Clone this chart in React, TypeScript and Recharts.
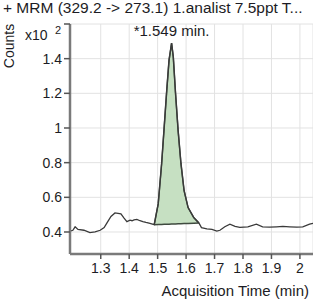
import React from 'react';
import { ComposedChart, Line, Area, XAxis, YAxis, CartesianGrid, ReferenceDot } from 'recharts';

// Acquisition time (min)
const times = [
  1.192, 1.202, 1.21, 1.22, 1.241, 1.262, 1.28, 1.298, 1.312, 1.322, 1.336, 1.35, 1.361, 1.371,
  1.382, 1.392, 1.403, 1.41, 1.417, 1.427, 1.438, 1.448, 1.459, 1.473, 1.488, 1.502, 1.514,
  1.523, 1.532, 1.54, 1.549, 1.555, 1.563, 1.572, 1.582, 1.593, 1.607, 1.627, 1.645, 1.654,
  1.673, 1.691, 1.708, 1.719, 1.736, 1.754, 1.772, 1.789, 1.817, 1.847, 1.869, 1.894, 1.918,
  1.94, 1.964, 1.989, 2.01, 2.034, 2.046,
];
// Counts (x10^2)
const counts = [
  0.405, 0.41, 0.43, 0.415, 0.41, 0.396, 0.4, 0.41, 0.425, 0.453, 0.49, 0.51, 0.508, 0.505,
  0.48, 0.46, 0.468, 0.465, 0.47, 0.473, 0.465, 0.46, 0.455, 0.45, 0.442, 0.562, 0.794,
  1.005, 1.217, 1.39, 1.49, 1.41, 1.198, 0.985, 0.794, 0.638, 0.541, 0.483, 0.452, 0.425,
  0.418, 0.415, 0.405, 0.41, 0.43, 0.445, 0.432, 0.427, 0.43, 0.445, 0.43, 0.428, 0.43,
  0.432, 0.43, 0.428, 0.43, 0.445, 0.45,
];
// Integrated peak: start/end time and baseline values at those ends
const peakStart = 1.488;
const peakEnd = 1.645;
const baseStart = 0.442;
const baseEnd = 0.452;
const peakTime = 1.549;
const peakCount = 1.49;
const peakLabel = '*1.549 min.';

const xTicks = [1.3, 1.4, 1.5, 1.6, 1.7, 1.8, 1.9, 2.0];
const yTicks = [0.4, 0.6, 0.8, 1, 1.2, 1.4, 1.6];

const title = '+ MRM (329.2 -> 273.1) 1.analist 7.5ppt T...';
const yTitle = 'Counts';
const xTitle = 'Acquisition Time (min)';

const data = times.map((t, i) => {
  const inPeak = t >= peakStart - 1e-9 && t <= peakEnd + 1e-9;
  const base = baseStart + ((t - peakStart) / (peakEnd - peakStart)) * (baseEnd - baseStart);
  return { t, y: counts[i], peak: inPeak ? [base, counts[i]] : null };
});

const FONT = '"Liberation Sans", Arial, sans-serif';
const TEXT = '#1c1c24';

export default function App() {
  return (
    <div style={{ position: 'absolute', left: 0, top: 0, width: 313, height: 302, background: '#fff' }}>
      <ComposedChart
        width={313}
        height={302}
        data={data}
        margin={{ top: 24, right: 0, bottom: 0, left: 0 }}
        style={{ fontFamily: FONT }}
      >
        <CartesianGrid stroke="#e2e2e2" strokeWidth={1} />
        <XAxis
          dataKey="t"
          type="number"
          domain={[1.192, 2.046]}
          ticks={xTicks}
          tickFormatter={(v: number) => (v === 2 ? '2' : v.toFixed(1))}
          height={48}
          tickSize={5}
          tickMargin={4}
          allowDataOverflow
          stroke="#7a7a7a"
          axisLine={{ stroke: '#7a7a7a', strokeWidth: 2.5 }}
          tickLine={{ stroke: '#555', strokeWidth: 1.5 }}
          tick={{ fill: TEXT, fontSize: 14, fontFamily: FONT }}
        />
        <YAxis
          type="number"
          domain={[0.273, 1.6]}
          ticks={yTicks}
          tickFormatter={(v: number) => (v === 1.6 ? '' : String(v))}
          width={70}
          tickSize={6}
          tickMargin={2}
          allowDataOverflow
          axisLine={{ stroke: '#7a7a7a', strokeWidth: 2.5 }}
          tickLine={{ stroke: '#555', strokeWidth: 1.5 }}
          tick={{ fill: TEXT, fontSize: 14, fontFamily: FONT }}
        />
        <Area
          dataKey="peak"
          type="linear"
          fill="#c6e0c2"
          fillOpacity={1}
          stroke="#3f4a3f"
          strokeWidth={1.5}
          isAnimationActive={false}
          dot={false}
          activeDot={false}
        />
        <Line
          dataKey="y"
          type="linear"
          stroke="#3a3a3a"
          strokeWidth={1.3}
          dot={false}
          activeDot={false}
          isAnimationActive={false}
        />
        <ReferenceDot
          x={peakTime}
          y={peakCount}
          r={0}
          fill="none"
          stroke="none"
          label={{ value: peakLabel, position: 'top', offset: 7, fill: TEXT, fontSize: 15, fontFamily: FONT }}
        />
      </ComposedChart>
      <svg width={313} height={302} style={{ position: 'absolute', left: 0, top: 0, pointerEvents: 'none' }}>
        <text x={3} y={13} fontSize={15.5} fontFamily={FONT} fill={TEXT}>{title}</text>
        <text x={25} y={40} fontSize={14} fontFamily={FONT} fill={TEXT}>x10</text>
        <text x={55} y={34} fontSize={11} fontFamily={FONT} fill={TEXT}>2</text>
        <text transform="translate(14,46) rotate(-90)" textAnchor="middle" fontSize={14} fontFamily={FONT} fill={TEXT}>{yTitle}</text>
        <text x={309} y={296} textAnchor="end" fontSize={15} fontFamily={FONT} fill={TEXT}>{xTitle}</text>
      </svg>
    </div>
  );
}
